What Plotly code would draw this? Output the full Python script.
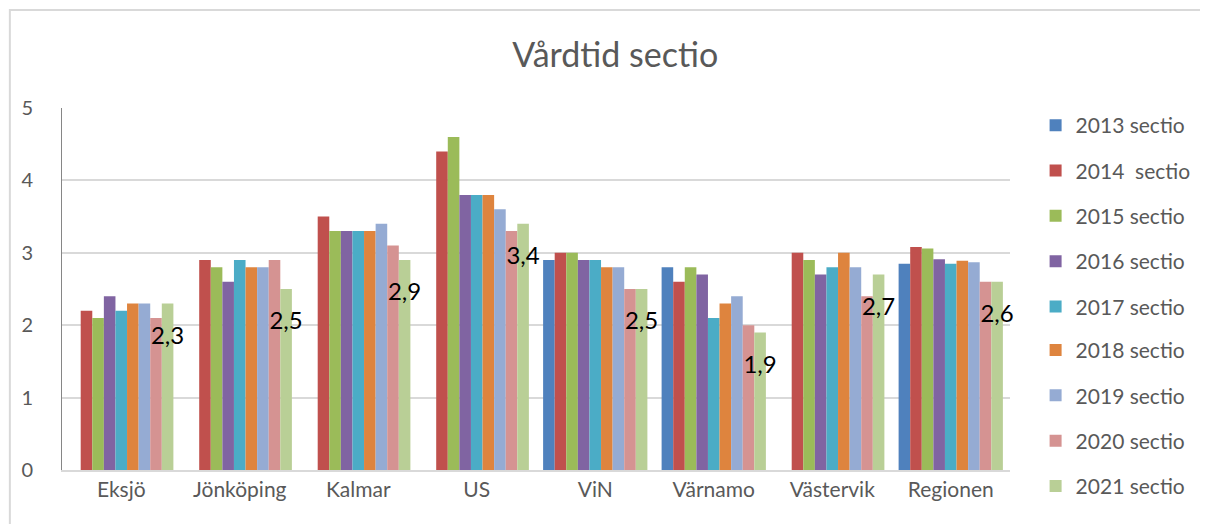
import plotly.graph_objects as go

categories = ["Eksjö", "Jönköping", "Kalmar", "US", "ViN", "Värnamo", "Västervik", "Regionen"]

series_names = ["2013 sectio", "2014  sectio", "2015 sectio", "2016 sectio", "2017 sectio",
                "2018 sectio", "2019 sectio", "2020 sectio", "2021 sectio"]

v2013 = [None, None, None, None, 2.9, 2.8, None, 2.85]
v2014 = [2.2, 2.9, 3.5, 4.4, 3.0, 2.6, 3.0, 3.08]
v2015 = [2.1, 2.8, 3.3, 4.6, 3.0, 2.8, 2.9, 3.06]
v2016 = [2.4, 2.6, 3.3, 3.8, 2.9, 2.7, 2.7, 2.91]
v2017 = [2.2, 2.9, 3.3, 3.8, 2.9, 2.1, 2.8, 2.85]
v2018 = [2.3, 2.8, 3.3, 3.8, 2.8, 2.3, 3.0, 2.89]
v2019 = [2.3, 2.8, 3.4, 3.6, 2.8, 2.4, 2.8, 2.87]
v2020 = [2.1, 2.9, 3.1, 3.3, 2.5, 2.0, 2.4, 2.6]
v2021 = [2.3, 2.5, 2.9, 3.4, 2.5, 1.9, 2.7, 2.6]

values = [v2013, v2014, v2015, v2016, v2017, v2018, v2019, v2020, v2021]

colors = ["#4F81BD", "#C0504D", "#9BBB59", "#8064A2", "#4BACC6",
          "#DE843E", "#95ABD3", "#D59392", "#B9CF96"]

y_ticks = [0, 1, 2, 3, 4, 5]

FONT = "Lato, 'Open Sans', sans-serif"

fig = go.Figure()
for i, (name, vals, col) in enumerate(zip(series_names, values, colors)):
    kw = {}
    if i == len(series_names) - 1:
        kw = dict(
            texttemplate="<span style='font-size:6px;color:rgba(0,0,0,0)'>.</span><br>%{y:.1f}",
            textposition="inside",
            insidetextanchor="end",
            constraintext="none",
            textangle=0,
            cliponaxis=False,
            textfont=dict(family=FONT, size=24, color="#000000"),
        )
    fig.add_trace(go.Bar(
        x=categories, y=vals, name=name, marker=dict(color=col, line=dict(width=0)),
        legendgroup=name, legend="legend" if i < 5 else "legend2", **kw
    ))

legend_common = dict(font=dict(family=FONT, size=21, color="#595959"),
                     tracegroupgap=15, bgcolor="rgba(0,0,0,0)", xanchor="left", yanchor="top")

fig.update_layout(
    width=1200, height=516,
    barmode="group", bargap=0.12, bargroupgap=0,
    separators=", ",
    paper_bgcolor="white", plot_bgcolor="white",
    margin=dict(l=54, r=195, t=100, b=54),
    title=dict(text="Vårdtid sectio", x=0.506, xanchor="center", y=0.909, yanchor="middle",
               font=dict(family=FONT, size=34, color="#595959")),
    font=dict(family=FONT, color="#595959"),
    legend=dict(x=1.027, y=1.008, **legend_common),
    legend2=dict(x=1.027, y=0.387, **legend_common),
    showlegend=True,
    shapes=[dict(type="rect", xref="paper", yref="paper",
                 x0=-0.055, x1=1.3, y0=-0.3, y1=1.271,
                 line=dict(color="#D9D9D9", width=2), fillcolor="rgba(0,0,0,0)", layer="below")],
)
fig.update_xaxes(showline=True, linecolor="#D9D9D9", linewidth=2, ticks="",
                 tickfont=dict(family=FONT, size=21, color="#595959"), showgrid=False)
fig.update_yaxes(range=[0, 5], tickvals=y_ticks, showgrid=True, gridcolor="#D9D9D9", gridwidth=2,
                 showline=True, linecolor="#868686", linewidth=1, zeroline=False, ticks="",
                 ticklabelstandoff=24,
                 tickfont=dict(family=FONT, size=20, color="#595959"))

fig.write_html("out.html")
